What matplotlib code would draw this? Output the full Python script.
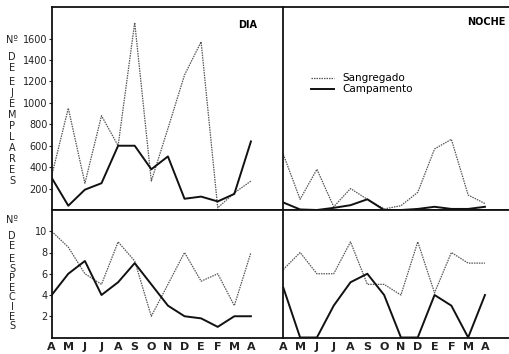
import numpy as np
import matplotlib.pyplot as plt

months = ['A', 'M', 'J', 'J', 'A', 'S', 'O', 'N', 'D', 'E', 'F', 'M', 'A']

# Nº de ejemplares
dia_sang_ej = [320, 950, 250, 880, 600, 1750, 270, 760, 1260, 1570, 20, 160, 270]
dia_camp_ej = [300, 40, 190, 250, 600, 600, 380, 500, 105, 125, 80, 150, 640]
noche_sang_ej = [520, 100, 380, 30, 200, 100, 10, 40, 165, 570, 660, 140, 60]
noche_camp_ej = [70, 5, 0, 20, 45, 100, 0, 0, 10, 30, 10, 10, 30]

# Nº de especies
dia_sang_esp = [10, 8.5, 6, 5, 9, 7.2, 2, 5, 8, 5.3, 6, 3, 8]
dia_camp_esp = [4, 6, 7.2, 4, 5.2, 7, 5, 3, 2, 1.8, 1, 2, 2]
noche_sang_esp = [6.4, 8, 6, 6, 9, 5, 5, 4, 9, 4.2, 8, 7, 7]
noche_camp_esp = [4.7, 0, 0, 3, 5.2, 6, 4, 0, 0, 4, 3, 0, 4]

x = np.arange(len(months))

W, H = 509, 354
fig = plt.figure(figsize=(W / 100, H / 100), dpi=100)

x0, xm = 51.7, 283.3
y_top, y_mid, y_bot = 7, 210, 337.5


def frac(px, py):
    return px / W, 1 - py / H


ax_tl = fig.add_axes([x0 / W, 1 - y_mid / H, (xm - x0) / W, (y_mid - y_top) / H])
ax_tr = fig.add_axes([xm / W, 1 - y_mid / H, 1 - xm / W, (y_mid - y_top) / H])
ax_bl = fig.add_axes([x0 / W, 1 - y_bot / H, (xm - x0) / W, (y_bot - y_mid) / H])
ax_br = fig.add_axes([xm / W, 1 - y_bot / H, 1 - xm / W, (y_bot - y_mid) / H])

sang_style = dict(color='#555555', linestyle=(0, (1.2, 0.8)), linewidth=0.9)
camp_style = dict(color='#111111', linestyle='-', linewidth=1.4)

panels = [
    (ax_tl, dia_sang_ej, dia_camp_ej),
    (ax_tr, noche_sang_ej, noche_camp_ej),
    (ax_bl, dia_sang_esp, dia_camp_esp),
    (ax_br, noche_sang_esp, noche_camp_esp),
]

for ax, sang, camp in panels:
    ax.plot(x, sang, label='Sangregado', **sang_style)
    ax.plot(x, camp, label='Campamento', **camp_style)
    for side in ['left', 'top', 'bottom', 'right']:
        ax.spines[side].set_linewidth(1.3)
        ax.spines[side].set_color('#111111')
    ax.spines['right'].set_visible(False)

for ax in [ax_tl, ax_bl]:
    ax.set_xlim(0, 13.95)
for ax in [ax_tr, ax_br]:
    ax.set_xlim(0, 13.43)

ax_tl.set_ylim(0, 1895)
ax_tr.set_ylim(0, 1895)
ax_bl.set_ylim(0, 12)
ax_br.set_ylim(0, 12)

ax_tl.set_yticks(np.arange(200, 1601, 200))
ax_bl.set_yticks([2, 4, 6, 8, 10])
for ax in [ax_tl, ax_bl]:
    ax.tick_params(axis='y', direction='out', length=2, width=0.8, pad=1,
                   labelsize=7, colors='#222222')
for ax in [ax_tr, ax_br]:
    ax.set_yticks([])

for ax in [ax_tl, ax_tr]:
    ax.set_xticks([])
for ax in [ax_bl, ax_br]:
    ax.set_xticks(x)
    ax.set_xticklabels(months, fontsize=8, fontweight='bold', color='#222222')
    ax.tick_params(axis='x', length=0, pad=3)

ax_tl.text(0.887, 0.935, 'DIA', transform=ax_tl.transAxes, ha='right', va='top',
           fontsize=7, fontweight='bold')
ax_tr.text(13.2, 1800, 'NOCHE', ha='right', va='top', fontsize=7, fontweight='bold')

ax_tr.legend(loc='upper left', bbox_to_anchor=(0.08, 0.72), frameon=False,
             fontsize=7.5, handlelength=2.2, handletextpad=0.8, labelspacing=0.1)


# stacked axis titles, one letter per line
def stacked(first_y, word_y, words_step, words):
    fx, fy = frac(12, first_y)
    fig.text(fx, fy, 'Nº', ha='center', va='center', fontsize=7, color='#222222')
    for start, step, w in zip(word_y, words_step, words):
        for i, ch in enumerate(w):
            fx, fy = frac(12, start + i * step)
            fig.text(fx, fy, ch, ha='center', va='center', fontsize=7,
                     color='#222222')


stacked(40, [57, 82], [11, 11], ['DE', 'EJEMPLARES'])
stacked(220, [236, 259], [10, 9.6], ['DE', 'ESPECIES'])

fig.savefig('out.png', dpi=100)
